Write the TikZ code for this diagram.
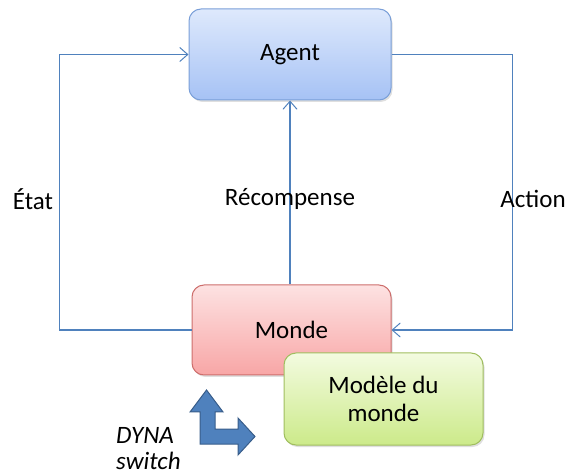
\documentclass[tikz,border=0pt]{standalone}
\usepackage{fontspec}
\setmainfont{Carlito}
\usetikzlibrary{shadows,arrows.meta}
\tikzset{
  boxbase/.style={rounded corners=12pt, line width=1pt, align=center,
    font=\fontsize{25}{28}\selectfont, inner sep=0pt,
    drop shadow={shadow xshift=1.5pt, shadow yshift=-2pt, opacity=0.25}},
  agentbox/.style={boxbase, draw={rgb,255:red,122;green,159;blue,216},
    top color={rgb,255:red,222;green,233;blue,252}, bottom color={rgb,255:red,166;green,194;blue,245}},
  mondebox/.style={boxbase, draw={rgb,255:red,205;green,110;blue,108},
    top color={rgb,255:red,253;green,226;blue,226}, bottom color={rgb,255:red,248;green,166;blue,166}},
  modelebox/.style={boxbase, draw={rgb,255:red,160;green,190;blue,95},
    top color={rgb,255:red,243;green,251;blue,224}, bottom color={rgb,255:red,204;green,234;blue,138}},
  conn/.style={draw={rgb,255:red,79;green,129;blue,189}, line width=1.2pt,
    -{Straight Barb[length=8pt,width=14pt,line width=1pt]}},
  lbl/.style={font=\fontsize{25}{28}\selectfont, inner sep=0pt},
}
\begin{document}
\begin{tikzpicture}[x=1pt,y=-1pt]
\useasboundingbox (0,0) rectangle (566,476);
\node[agentbox, minimum width=202pt, minimum height=91pt] (agent) at (290,54.5) {Agent};
\node[mondebox, minimum width=199pt, minimum height=90pt] (monde) at (291.5,330) {Monde};
\node[modelebox, minimum width=199pt, minimum height=92pt] (modele) at (383.5,399) {Modèle du\\monde};
\draw[conn] (monde.west) -- ++(-132,0) |- (agent.west);
\draw[conn] (agent.east) -- ++(121,0) |- (monde.east);
\draw[conn] (monde.north -| agent.south) -- (agent.south);
\node[lbl] (etat) at (33,199) {État};
\node[lbl] (recomp) at (290,199) {Récompense};
\node[lbl] (action) at (533,199) {Action};
\node[lbl, font=\fontsize{25}{26}\selectfont\itshape, align=left, anchor=west] (dyna) at (116,449) {DYNA\\switch};
\filldraw[fill={rgb,255:red,79;green,129;blue,189}, draw={rgb,255:red,56;green,93;blue,138}, line width=1pt, line join=miter]
  (190,412) -- (206.5,390) -- (223,412) -- (215,412) -- (215,429) -- (238,429) -- (238,418)
  -- (255,436.5) -- (238,455) -- (238,444) -- (200,444) -- (200,412) -- cycle;
\end{tikzpicture}
\end{document}
